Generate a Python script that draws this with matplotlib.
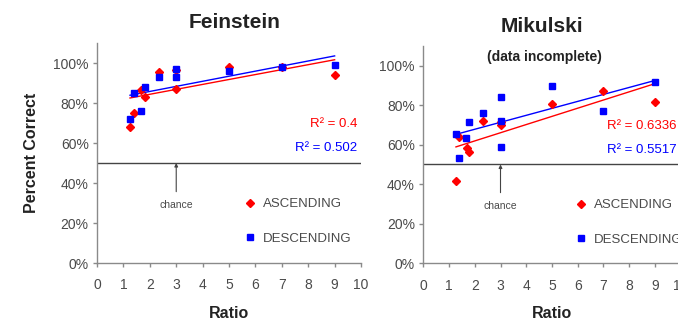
import numpy as np
import matplotlib
matplotlib.use("Agg")
import matplotlib.pyplot as plt

plt.rcParams['font.family'] = ['Liberation Sans', 'DejaVu Sans']

# Feinstein data
fein_asc_x = [1.25, 1.4, 1.67, 1.8, 2.33, 3, 3, 5, 7, 9]
fein_asc_y = [68, 75, 86.5, 83, 95.7, 96.5, 87, 98, 98, 94]
fein_desc_x = [1.25, 1.4, 1.67, 1.8, 2.33, 3, 3, 5, 7, 9]
fein_desc_y = [72, 85, 76, 88, 93, 97, 93, 96, 98, 99]
fein_r2 = ["0.4", "0.502"]

# Mikulski data
mik_asc_x = [1.27, 1.4, 1.69, 1.78, 2.33, 3, 3, 5, 7, 9]
mik_asc_y = [41.8, 63.8, 58.2, 56.5, 72, 71.7, 70, 80.5, 87.3, 81.5]
mik_desc_x = [1.26, 1.38, 1.65, 1.78, 2.33, 3, 3, 3, 5, 7, 9]
mik_desc_y = [65.4, 53.4, 63.2, 71.7, 75.9, 84.3, 72, 59, 89.9, 77.2, 91.9]
mik_r2 = ["0.6336", "0.5517"]

x_ticks = list(range(0, 11))
y_ticks = [0, 20, 40, 60, 80, 100]
chance = 50

RED = '#ff0000'
BLUE = '#0000ff'
GRAY_TXT = '#4a4a4a'
SPINE = '#8a8a8a'

fig = plt.figure(figsize=(6.78, 3.27), dpi=100)
ax1 = fig.add_axes([0.1431, 0.1957, 0.3894, 0.6728])
ax2 = fig.add_axes([0.6243, 0.1948, 0.3797, 0.6648])


def draw(ax, ax_x, ax_y, dx, dy, r2, leg_x):
    ax.set_xlim(0, 10)
    ax.set_ylim(0, 110)
    for s in ['top', 'right']:
        ax.spines[s].set_visible(False)
    for s in ['left', 'bottom']:
        ax.spines[s].set_color(SPINE)
        ax.spines[s].set_linewidth(1.0)
    ax.set_xticks(x_ticks)
    ax.set_yticks(y_ticks)
    ax.set_yticklabels([f"{v}%" for v in y_ticks])
    ax.tick_params(axis='both', colors=SPINE, labelcolor=GRAY_TXT,
                   labelsize=10, length=3, width=1, direction='out')
    ax.tick_params(axis='x', pad=8)
    ax.tick_params(axis='y', pad=3)

    # chance line
    ax.axhline(chance, color='#444444', lw=1.0, zorder=1)
    ax.annotate('chance', xy=(3, chance), xytext=(3, 29), ha='center', va='center',
                fontsize=7.5, color=GRAY_TXT,
                arrowprops=dict(arrowstyle='-|>', color='#444444', lw=0.8,
                                mutation_scale=5, shrinkA=4, shrinkB=0))

    # scatter
    h1, = ax.plot(ax_x, ax_y, linestyle='none', marker='D', color=RED,
                  markersize=4, zorder=3, label='ASCENDING')
    h2, = ax.plot(dx, dy, linestyle='none', marker='s', color=BLUE,
                  markersize=4.5, zorder=4, label='DESCENDING')

    # trend lines
    for xs, ys, c in [(ax_x, ax_y, RED), (dx, dy, BLUE)]:
        xs = np.array(xs, float)
        ys = np.array(ys, float)
        k, b = np.polyfit(xs, ys, 1)
        xl = np.array([xs.min(), xs.max()])
        ax.plot(xl, k * xl + b, color=c, lw=1.0, zorder=2)

    ax.text(9.85, 69.5, f"R\u00b2 = {r2[0]}", color=RED, fontsize=9.5,
            ha='right', va='center')
    ax.text(9.85, 57.5, f"R\u00b2 = {r2[1]}", color=BLUE, fontsize=9.5,
            ha='right', va='center')

    leg = ax.legend(handles=[h1, h2], loc='center left',
                    bbox_to_anchor=(leg_x, 0.188), frameon=False,
                    fontsize=9.5, labelspacing=1.7, handlelength=0.6,
                    handletextpad=0.7, borderpad=0.2)
    for t in leg.get_texts():
        t.set_color(GRAY_TXT)

    ax.set_xlabel('Ratio', fontsize=11.5, fontweight='bold', color='#222222',
                  labelpad=10)


draw(ax1, fein_asc_x, fein_asc_y, fein_desc_x, fein_desc_y, fein_r2, 0.53)
draw(ax2, mik_asc_x, mik_asc_y, mik_desc_x, mik_desc_y, mik_r2, 0.56)

ax1.set_ylabel('Percent Correct', fontsize=11.5, fontweight='bold',
               color='#222222', labelpad=10)

fig.text(235 / 678, 1 - 22 / 327, 'Feinstein', fontsize=15, fontweight='bold',
         ha='center', va='center', color='#222222')
fig.text(542 / 678, 1 - 26 / 327, 'Mikulski', fontsize=15, fontweight='bold',
         ha='center', va='center', color='#222222')
fig.text(544 / 678, 1 - 57 / 327, '(data incomplete)', fontsize=10,
         fontweight='bold', ha='center', va='center', color='#222222')

fig.savefig('out.png', dpi=100)
